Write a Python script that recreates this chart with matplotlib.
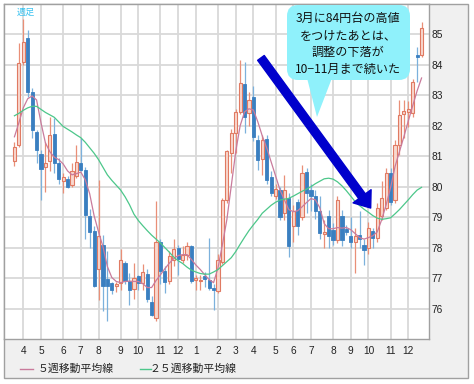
import matplotlib
matplotlib.use("Agg")
import matplotlib.pyplot as plt
import matplotlib.transforms as mtransforms
from matplotlib.patches import FancyBboxPatch, Polygon, Rectangle
from matplotlib.lines import Line2D
import numpy as np

# ---- data (weekly USD/JPY candles) ----
opens = [80.85, 81.38, 84.10, 84.88, 83.12, 81.81, 81.08, 80.65, 80.83, 81.73,
         80.78, 80.20, 80.25, 80.07, 80.36, 80.78, 80.54, 79.05, 78.53, 77.30,
         78.10, 76.98, 76.84, 76.73, 76.84, 77.50, 76.90, 76.64, 77.06, 76.84,
         77.15, 76.20, 75.70, 78.17, 77.22, 76.90, 77.60, 78.00, 77.58, 77.77,
         78.04, 76.93, 76.90, 77.08, 76.95, 76.68, 76.57, 77.52, 79.57, 81.12,
         81.76, 82.44, 83.38, 82.42, 82.94, 81.54, 80.90, 81.57, 80.32, 79.70,
         79.90, 79.15, 79.64, 78.70, 79.50, 79.00, 80.47, 79.90, 79.68, 79.19,
         78.45, 79.03, 78.59, 78.26, 79.03, 78.60, 78.37, 78.20, 78.40, 78.10,
         77.99, 78.56, 78.33, 79.03, 79.31, 80.45, 79.57, 81.38, 82.40, 82.45,
         82.42, 84.33, 84.33]
highs = [81.48, 84.72, 85.50, 85.15, 83.24, 81.85, 81.20, 81.47, 82.30, 82.26,
         80.93, 80.45, 80.34, 80.78, 81.38, 81.60, 80.64, 79.27, 78.70, 80.23,
         78.40, 77.90, 76.88, 76.88, 77.96, 77.55, 77.18, 77.50, 77.10, 77.45,
         77.30, 76.40, 79.52, 78.30, 77.40, 77.90, 78.30, 78.10, 78.05, 78.20,
         78.10, 77.10, 77.10, 77.20, 78.33, 76.80, 77.80, 79.62, 81.22, 81.90,
         82.55, 84.16, 84.10, 83.12, 83.30, 81.70, 81.70, 81.70, 80.50, 80.10,
         80.00, 80.40, 79.80, 79.40, 79.60, 80.70, 80.60, 80.10, 79.90, 79.70,
         78.90, 79.25, 78.80, 79.70, 79.25, 78.75, 79.00, 78.65, 79.20, 78.27,
         78.85, 78.65, 79.48, 80.20, 80.60, 80.60, 81.55, 82.85, 82.85, 82.80,
         83.55, 84.60, 85.40]
lows = [80.67, 81.30, 84.00, 82.96, 81.60, 80.77, 79.57, 79.82, 80.50, 80.46,
        80.10, 79.80, 79.95, 80.00, 80.30, 80.50, 78.30, 78.00, 76.70, 76.27,
        75.92, 75.60, 76.47, 76.55, 76.60, 76.80, 76.13, 76.30, 76.60, 76.60,
        76.20, 75.74, 75.60, 76.80, 76.50, 76.80, 77.40, 77.10, 77.50, 77.60,
        76.85, 76.60, 76.60, 76.70, 76.60, 75.95, 76.50, 77.45, 79.45, 80.45,
        81.10, 82.40, 81.76, 81.98, 81.50, 80.55, 80.40, 80.10, 79.70, 79.60,
        78.90, 78.90, 77.70, 78.20, 78.40, 78.90, 79.14, 79.20, 78.95, 78.30,
        78.00, 78.00, 78.10, 78.15, 78.05, 78.40, 78.00, 77.18, 78.00, 77.44,
        77.80, 78.00, 78.20, 78.90, 79.25, 79.40, 79.45, 81.05, 81.60, 81.95,
        82.30, 83.45, 84.25]
closes = [81.30, 84.06, 84.75, 83.12, 81.87, 81.19, 80.59, 80.78, 81.70, 80.78,
          80.25, 80.32, 80.00, 80.50, 80.80, 80.54, 79.08, 78.50, 76.75, 78.39,
          76.73, 76.73, 76.60, 76.79, 77.60, 76.90, 76.60, 77.00, 76.84, 77.20,
          76.30, 75.80, 78.20, 77.22, 76.86, 77.72, 77.96, 77.63, 77.77, 78.07,
          76.90, 76.99, 76.95, 76.97, 76.68, 76.60, 77.60, 79.57, 81.16, 81.78,
          82.44, 83.42, 82.30, 82.85, 81.63, 80.89, 81.54, 80.23, 79.81, 79.92,
          79.00, 79.90, 78.04, 79.20, 78.72, 80.45, 79.80, 79.68, 79.19, 78.48,
          78.50, 78.37, 78.26, 79.57, 78.26, 78.50, 78.20, 78.37, 78.30, 77.93,
          78.64, 78.33, 79.31, 79.64, 80.45, 79.50, 81.38, 82.36, 82.50, 82.55,
          83.45, 84.25, 85.20]
ma5 = [81.64, 82.10, 82.59, 82.89, 82.98, 82.85, 82.10, 81.44, 81.15, 80.97,
       80.89, 80.75, 80.52, 80.39, 80.43, 80.48, 80.23, 79.77, 79.05, 78.52,
       78.03, 77.38, 77.02, 76.89, 76.85, 76.89, 76.90, 76.89, 76.89, 76.82,
       76.69, 76.69, 76.92, 77.11, 77.31, 77.49, 77.64, 77.74, 77.77, 77.77,
       77.61, 77.43, 77.28, 77.11, 76.95, 76.85, 77.34, 78.10, 78.92, 80.03,
       81.15, 82.00, 82.46, 82.56, 82.52, 82.13, 81.67, 81.28, 80.82, 80.36,
       79.90, 79.57, 79.25, 79.18, 79.21, 79.34, 79.48, 79.61, 79.57, 79.31,
       78.79, 78.62, 78.62, 78.66, 78.64, 78.66, 78.59, 78.46, 78.33, 78.28,
       78.33, 78.39, 78.52, 78.92, 79.41, 79.97, 80.66, 81.15, 81.64, 82.16,
       82.66, 83.15, 83.57]
ma25 = [82.33, 82.41, 82.51, 82.59, 82.64, 82.64, 82.54, 82.44, 82.36, 82.28,
        82.13, 81.98, 81.89, 81.80, 81.70, 81.61, 81.46, 81.28, 81.10, 80.89,
        80.64, 80.39, 80.21, 80.05, 79.89, 79.67, 79.41, 79.10, 78.89, 78.72,
        78.56, 78.41, 78.28, 78.15, 78.00, 77.85, 77.69, 77.57, 77.48, 77.36,
        77.26, 77.20, 77.15, 77.13, 77.13, 77.20, 77.28, 77.41, 77.54, 77.67,
        77.87, 78.11, 78.34, 78.56, 78.75, 78.93, 79.13, 79.26, 79.39, 79.49,
        79.56, 79.59, 79.62, 79.69, 79.77, 79.85, 79.92, 80.00, 80.10, 80.18,
        80.26, 80.28, 80.25, 80.16, 80.03, 79.87, 79.69, 79.51, 79.38, 79.26,
        79.16, 79.05, 78.97, 78.93, 78.95, 78.98, 79.11, 79.25, 79.41, 79.57,
        79.74, 79.89, 79.98]
month_pos = [2, 6, 11, 15, 19, 24, 28, 33, 37, 41, 46, 50, 54, 59, 63, 67, 72, 76, 80, 85, 89]
month_labels = ["4", "5", "6", "7", "8", "9", "10", "11", "12", "1", "2", "3",
                "4", "5", "6", "7", "8", "9", "10", "11", "12"]
price_ticks = [76, 77, 78, 79, 80, 81, 82, 83, 84, 85]
legend_labels = ["５週移動平均線", "２５週移動平均線"]
callout_text = "3月に84円台の高値\nをつけたあとは、\n調整の下落が\n10−11月まで続いた"
period_label = "週足"
arrow_from = (55.7, 84.23)
arrow_to = (80.5, 79.30)

# ---- styles ----
UP_FACE, UP_EDGE, UP_WICK = "#f9d8ce", "#e07a62", "#e98f77"
DN_FACE, DN_EDGE, DN_WICK = "#3a7fc0", "#3a7fc0", "#7cb1dc"
MA5_C, MA25_C = "#c97b9c", "#4cc78a"
GRID_C = "#d9d9d9"
JP = ["Noto Sans CJK JP", "DejaVu Sans"]

W, H = 474, 384
fig = plt.figure(figsize=(W / 100, H / 100), dpi=100)
fig.patch.set_facecolor("white")
px = mtransforms.Affine2D().scale(1 / W, -1 / H).translate(0, 1) + fig.transFigure

panel = Rectangle((4, 4), 464, 374, transform=px, facecolor="#f0f0f0",
                  edgecolor="#a0a0a0", lw=1.0, zorder=-5)
fig.add_artist(panel)

ax = fig.add_axes([4 / W, 1 - 339 / H, 425 / W, 335 / H])
ax.set_facecolor("white")
ax.set_xlim(-2.36, 93.68)
ax.set_ylim(75, 86)

x = np.arange(len(opens))
o = np.array(opens); c = np.array(closes); h = np.array(highs); l = np.array(lows)
up = c >= o

ax.vlines(x[up], l[up], h[up], colors=UP_WICK, lw=0.9, zorder=2)
ax.vlines(x[~up], l[~up], h[~up], colors=DN_WICK, lw=0.9, zorder=2)
bot = np.minimum(o, c)
hgt = np.maximum(np.abs(c - o), 0.05)
ax.bar(x[up], hgt[up], bottom=bot[up], width=0.72, color=UP_FACE,
       edgecolor=UP_EDGE, linewidth=0.8, zorder=3)
ax.bar(x[~up], hgt[~up], bottom=bot[~up], width=0.72, color=DN_FACE,
       edgecolor=DN_EDGE, linewidth=0.6, zorder=3)

ax.plot(x, ma5, color=MA5_C, lw=0.9, zorder=4)
ax.plot(x, ma25, color=MA25_C, lw=0.9, zorder=4)

ax.set_xticks(month_pos)
ax.set_xticklabels(month_labels)
ax.set_yticks(price_ticks)
ax.grid(True, color=GRID_C, lw=1.3)
ax.set_axisbelow(True)
ax.tick_params(axis="both", length=0, labelsize=7.3, labelcolor="#222222")
ax.tick_params(axis="x", pad=5.2)
ax.tick_params(axis="y", left=False, labelleft=False, right=False, labelright=True, pad=1.5)
for lab in ax.get_xticklabels() + ax.get_yticklabels():
    lab.set_fontfamily("Liberation Sans")
for sp in ax.spines.values():
    sp.set_color("#a0a0a0")
    sp.set_linewidth(1.0)

# arrow
ax.annotate("", xy=arrow_to, xytext=arrow_from, annotation_clip=False,
            arrowprops=dict(arrowstyle="simple,head_length=0.75,head_width=1.15,tail_width=0.42",
                            mutation_scale=14, color="#0000cc", shrinkA=0, shrinkB=0),
            zorder=6)

# callout bubble
bubble = FancyBboxPatch((287, 5), 123, 75, boxstyle="round,pad=0,rounding_size=11",
                        transform=px, facecolor="#8ff1fb", edgecolor="none", zorder=7)
fig.add_artist(bubble)
tail = Polygon([(307, 78), (332, 78), (317, 117)], closed=True, transform=px,
               facecolor="#8ff1fb", edgecolor="none", zorder=7)
fig.add_artist(tail)
fig.text(348, 44, callout_text, transform=px, ha="center", va="center",
         fontsize=8.7, family=JP, color="#111111", linespacing=1.38, zorder=8)

fig.text(26, 12.5, period_label, transform=px, ha="center", va="center",
         fontsize=6.6, family=JP, color="#3cc3f0", zorder=8)

# legend
fig.add_artist(Line2D([20, 33], [369, 369], transform=px, color=MA5_C, lw=1.0))
fig.text(38, 369, legend_labels[0], transform=px, ha="left", va="center",
         fontsize=7.8, family=JP, color="#222222")
fig.add_artist(Line2D([140, 151], [369, 369], transform=px, color=MA25_C, lw=1.0))
fig.text(150, 369, legend_labels[1], transform=px, ha="left", va="center",
         fontsize=7.8, family=JP, color="#222222")

fig.savefig("out.png", dpi=100, facecolor="white")
